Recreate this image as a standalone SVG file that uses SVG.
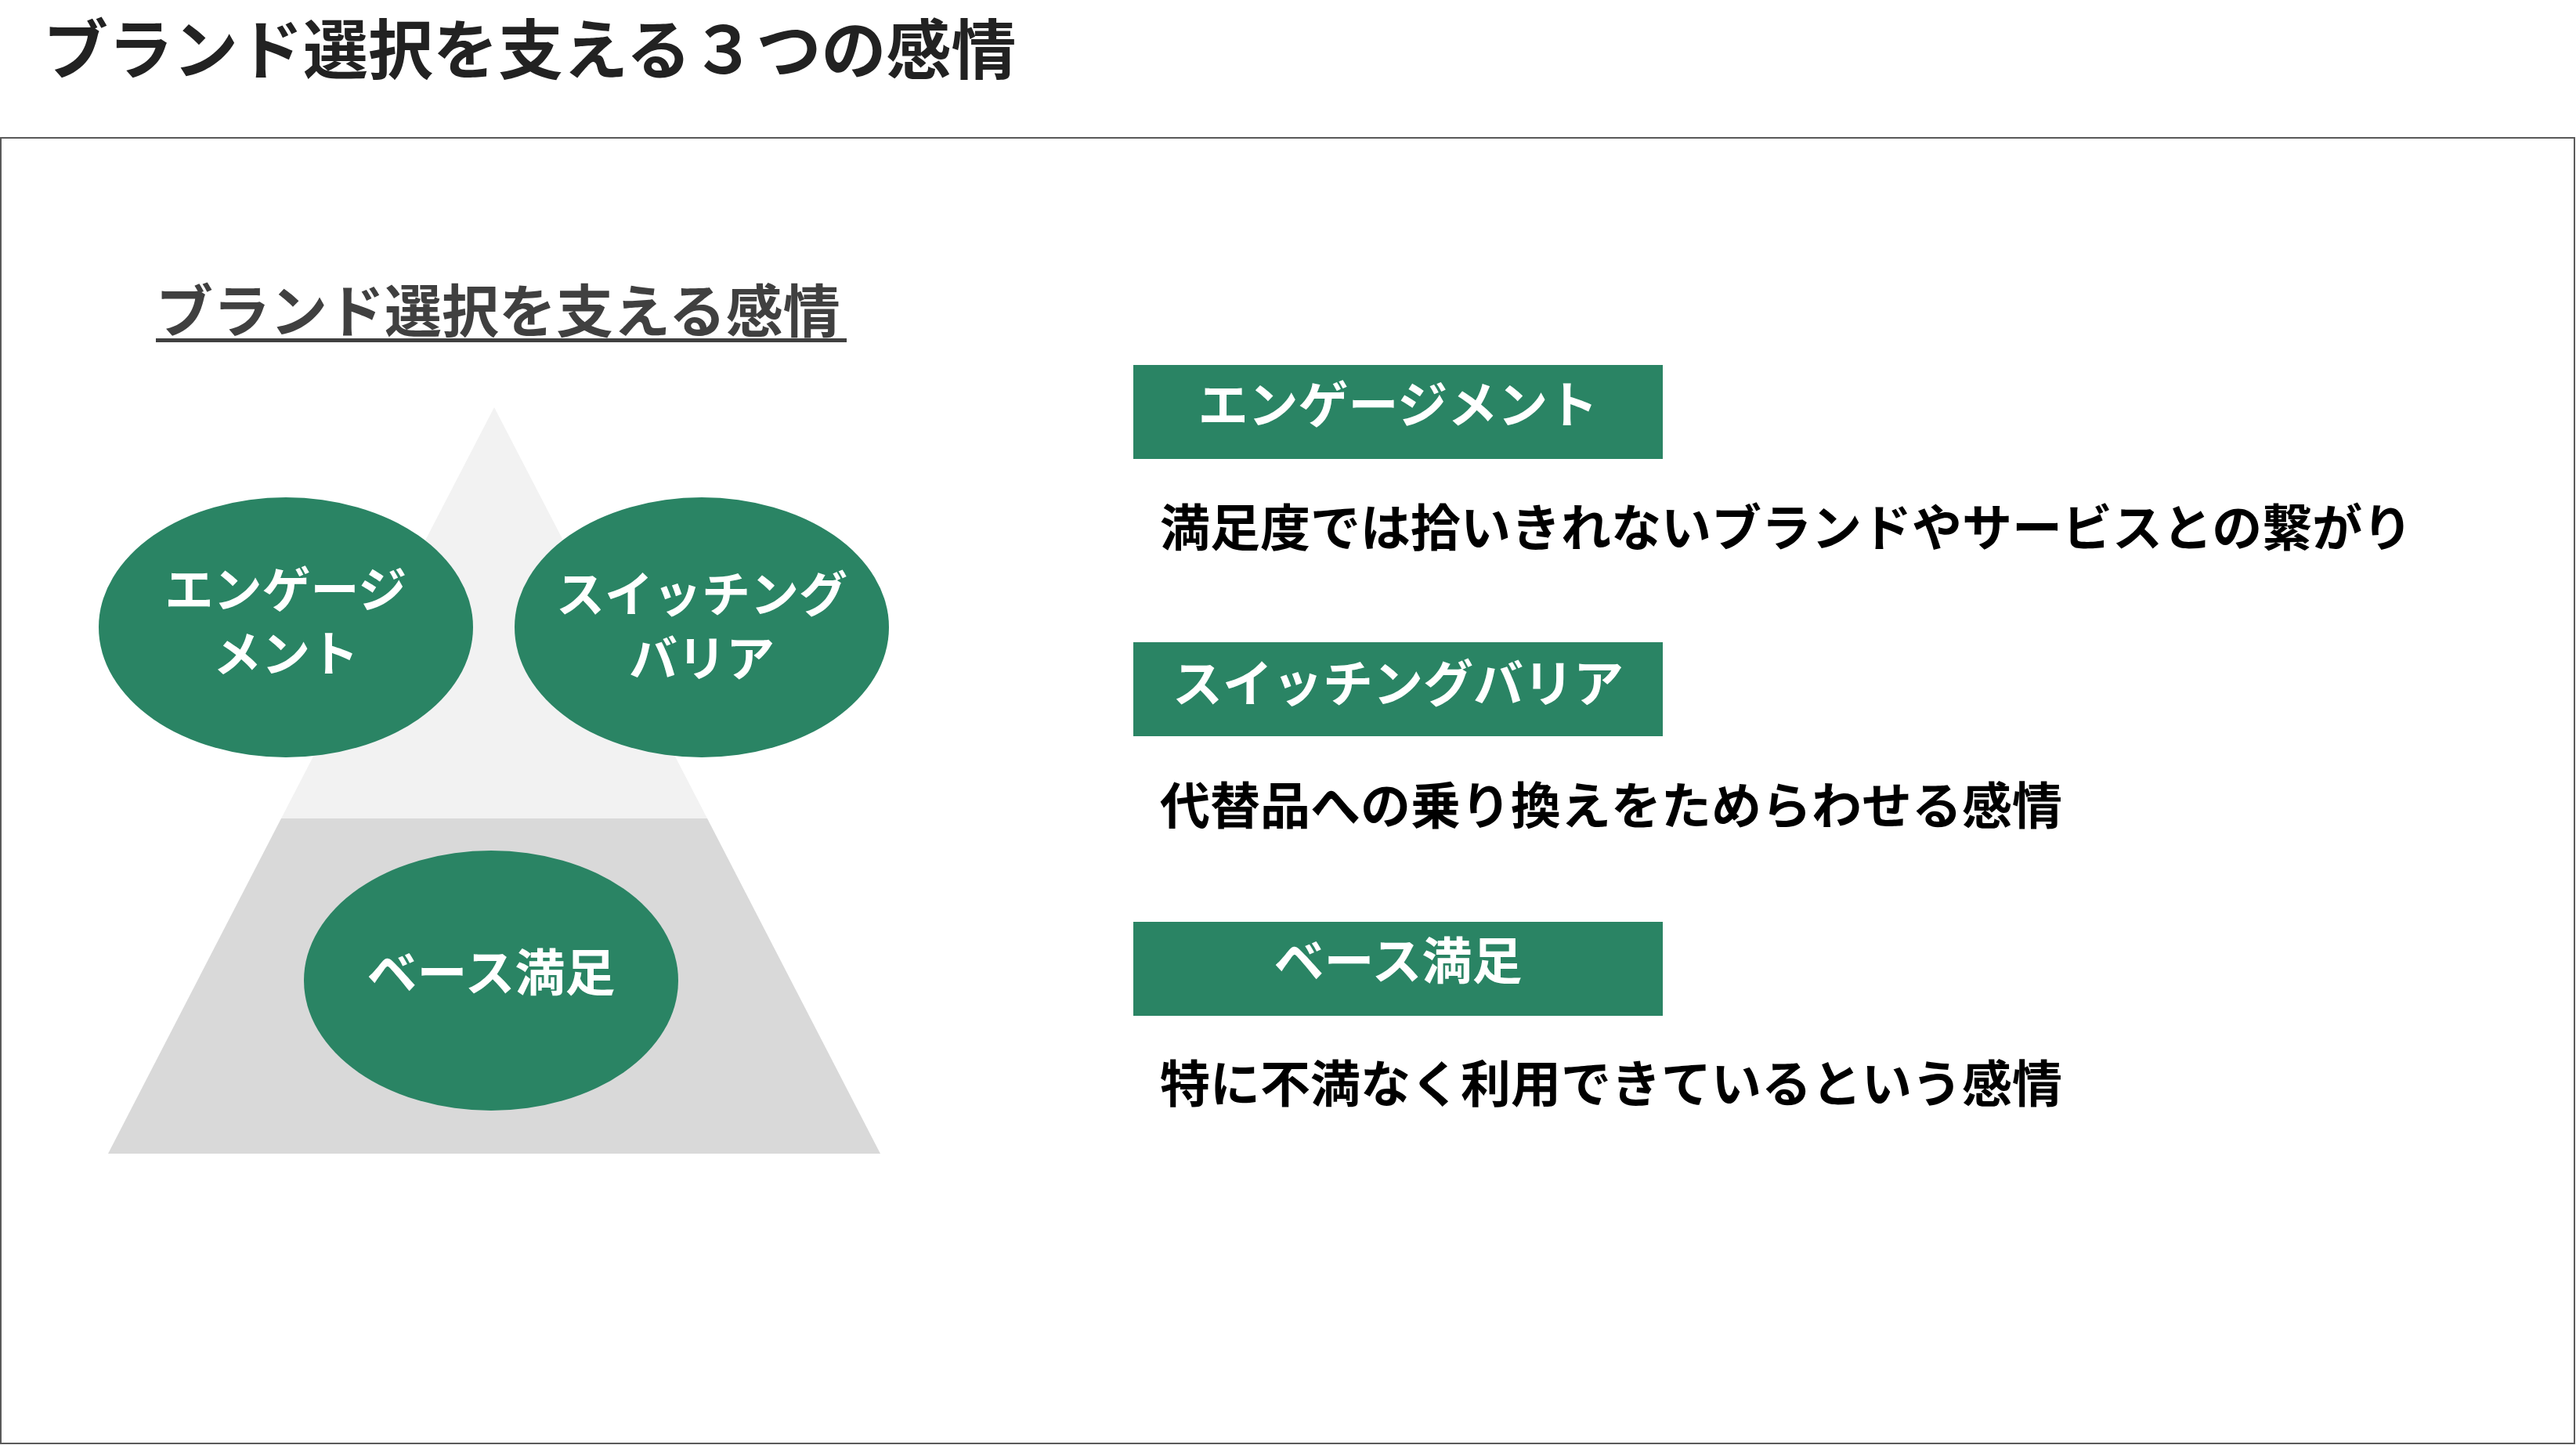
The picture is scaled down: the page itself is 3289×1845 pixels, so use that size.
<svg xmlns="http://www.w3.org/2000/svg" width="3289" height="1845" viewBox="0 0 3289 1845">
<style>
text{font-family:"Noto Sans CJK JP","Noto Sans CJK SC",sans-serif;font-weight:bold}
.w{fill:#fff;font-size:64px;text-anchor:middle}
.e{fill:#fff;font-size:62px;text-anchor:middle}
.d{fill:#000;font-size:64px}
.g{fill:#2a8464}
</style>
<rect width="3289" height="1845" fill="#fff"/>
<text x="55" y="94" font-size="83" fill="#222">ブランド選択を支える３つの感情</text>
<rect x="1" y="176" width="3286" height="1667" fill="none" stroke="#595959" stroke-width="2"/>
<g id="subtitle">
<text x="199" y="424" font-size="73" fill="#404040">ブランド選択を支える感情</text>
<rect x="199" y="432" width="882" height="5" fill="#404040"/>
</g>
<g id="pyramid">
<polygon points="631,520 359,1045 903,1045" fill="#f2f2f2"/>
<polygon points="359,1045 903,1045 1124,1473 138,1473" fill="#d9d9d9"/>
</g>
<g id="n1"><ellipse class="g" cx="365" cy="801" rx="239" ry="166"/><text class="e" x="365" y="776">エンゲージ</text><text class="e" x="365" y="858">メント</text></g>
<g id="n2"><ellipse class="g" cx="896" cy="801" rx="239" ry="166"/><text class="e" x="896" y="782">スイッチング</text><text class="e" x="896" y="864">バリア</text></g>
<g id="n3"><ellipse class="g" cx="627" cy="1252" rx="239" ry="166"/><text class="w" x="627" y="1265">ベース満足</text></g>
<g id="b1"><rect class="g" x="1447" y="466" width="676" height="120"/><text class="w" x="1785" y="540">エンゲージメント</text></g>
<g id="b2"><rect class="g" x="1447" y="820" width="676" height="120"/><text class="w" x="1785" y="896">スイッチングバリア</text></g>
<g id="b3"><rect class="g" x="1447" y="1177" width="676" height="120"/><text class="w" x="1785" y="1250">ベース満足</text></g>
<g id="t1"><text class="d" x="1481" y="697">満足度では拾いきれないブランドやサービスとの繋がり</text></g>
<g id="t2"><text class="d" x="1481" y="1052">代替品への乗り換えをためらわせる感情</text></g>
<g id="t3"><text class="d" x="1481" y="1407">特に不満なく利用できているという感情</text></g>
<g id="connectors"/>
</svg>
